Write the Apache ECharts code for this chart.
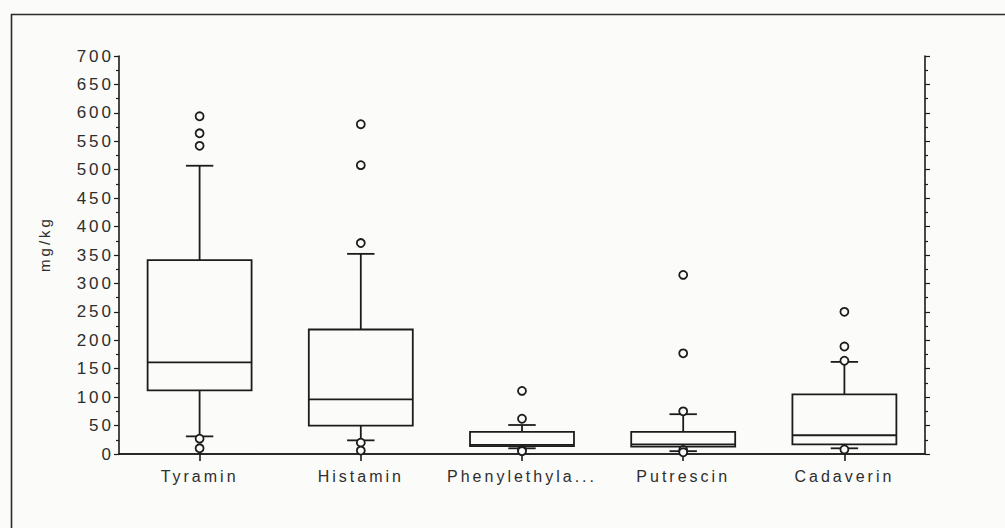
<!DOCTYPE html>
<html>
<head>
<meta charset="utf-8">
<script src="https://cdn.jsdelivr.net/npm/echarts@6/dist/echarts.min.js"></script>
<style>
  html, body { margin: 0; padding: 0; background: #fbfbf9; }
  #chart { width: 1005px; height: 528px; }
  #chart text { letter-spacing: 3px; }
</style>
</head>
<body>
<div id="chart"></div>
<script>
// ---- data ----
const categories  = ['Tyramin', 'Histamin', 'Phenylethyla...', 'Putrescin', 'Cadaverin'];
const whiskerLow  = [31, 24, 10, 5, 10];
const q1          = [112, 50, 14, 13, 17];
const median      = [161, 96, 16, 17, 33];
const q3          = [341, 219, 39, 39, 105];
const whiskerHigh = [507, 352, 51, 70, 162];
const outliers    = [
  [594, 564, 542, 27, 10],
  [580, 508, 371, 20, 6],
  [111, 62, 7, 5],
  [315, 177, 75, 7, 3],
  [250, 189, 164, 8]
];
const yMin = 0, yMax = 700, yStep = 50;
const yAxisName = 'mg/kg';

// ---- build series data ----
const boxData = categories.map((c, i) => [i, whiskerLow[i], q1[i], median[i], q3[i], whiskerHigh[i]]);
const outlierData = [];
outliers.forEach((arr, i) => arr.forEach(v => outlierData.push([i, v])));

const ink = '#1c1c1c';
const textColor = '#2e2e2e';
const fontFamily = '"Liberation Sans", Arial, Helvetica, sans-serif';

const chart = echarts.init(document.getElementById('chart'), null, { renderer: 'svg' });

chart.setOption({
  backgroundColor: '#fbfbf9',
  animation: false,
  grid: { left: 119, right: 80, top: 56, bottom: 74 },
  xAxis: [
    {
      type: 'category', data: categories, position: 'bottom',
      axisLine: { show: true, lineStyle: { color: ink, width: 1.6 } },
      axisTick: { show: true, alignWithLabel: true, length: 7, lineStyle: { color: ink, width: 1.6 } },
      axisLabel: { show: true, fontSize: 16, color: textColor, fontFamily: fontFamily, margin: 14, interval: 0 },
      splitLine: { show: false }
    },
    {
      type: 'category', data: categories, position: 'top',
      axisLine: { show: true, lineStyle: { color: ink, width: 1.6 } },
      axisTick: { show: true, alignWithLabel: true, length: 6, lineStyle: { color: ink, width: 1.6 } },
      axisLabel: { show: false },
      splitLine: { show: false }
    }
  ],
  yAxis: [
    {
      type: 'value', min: yMin, max: yMax, interval: yStep, position: 'left',
      axisLine: { show: true, lineStyle: { color: ink, width: 1.6 } },
      axisTick: { show: true, length: 5, lineStyle: { color: ink, width: 1.2 } },
      minorTick: { show: true, splitNumber: 2, length: 3, lineStyle: { color: ink, width: 1.2 } },
      axisLabel: { fontSize: 17, color: textColor, fontFamily: fontFamily, margin: 5 },
      splitLine: { show: false }
    },
    {
      type: 'value', min: yMin, max: yMax, interval: yStep, position: 'right',
      axisLine: { show: true, lineStyle: { color: ink, width: 1.6 } },
      axisTick: { show: true, length: 5, lineStyle: { color: ink, width: 1.2 } },
      minorTick: { show: true, splitNumber: 2, length: 3, lineStyle: { color: ink, width: 1.2 } },
      axisLabel: { show: false },
      splitLine: { show: false }
    }
  ],
  graphic: [
    {
      type: 'rect', left: 9, top: 12, silent: true, z: -1,
      shape: { x: 0, y: 0, width: 1200, height: 800 },
      style: { fill: 'none', stroke: '#2a2a2a', lineWidth: 1.6 }
    },
    {
      type: 'text', x: 44, y: 244, rotation: Math.PI / 2, silent: true,
      style: { text: yAxisName, fontSize: 15, fill: textColor, fontFamily: fontFamily, align: 'center', verticalAlign: 'middle' }
    }
  ],
  series: [
    {
      type: 'custom',
      xAxisIndex: 0, yAxisIndex: 0,
      data: boxData,
      z: 2,
      renderItem: function (params, api) {
        const idx = api.value(0);
        const pMin = api.coord([idx, api.value(1)]);
        const pQ1 = api.coord([idx, api.value(2)]);
        const pMed = api.coord([idx, api.value(3)]);
        const pQ3 = api.coord([idx, api.value(4)]);
        const pMax = api.coord([idx, api.value(5)]);
        const band = api.size([1, 0])[0];
        const bw = band * 0.645;
        const cw = band * 0.17;
        const x = pMed[0];
        const ls = { stroke: ink, lineWidth: 1.8, fill: 'none' };
        return {
          type: 'group',
          children: [
            { type: 'line', shape: { x1: x, y1: pMax[1], x2: x, y2: pQ3[1] }, style: ls },
            { type: 'line', shape: { x1: x, y1: pQ1[1], x2: x, y2: pMin[1] }, style: ls },
            { type: 'line', shape: { x1: x - cw / 2, y1: pMax[1], x2: x + cw / 2, y2: pMax[1] }, style: ls },
            { type: 'line', shape: { x1: x - cw / 2, y1: pMin[1], x2: x + cw / 2, y2: pMin[1] }, style: ls },
            { type: 'rect', shape: { x: x - bw / 2, y: pQ3[1], width: bw, height: pQ1[1] - pQ3[1] },
              style: { stroke: ink, lineWidth: 1.8, fill: '#fbfbf9' } },
            { type: 'line', shape: { x1: x - bw / 2, y1: pMed[1], x2: x + bw / 2, y2: pMed[1] }, style: ls }
          ]
        };
      }
    },
    {
      type: 'scatter',
      xAxisIndex: 0, yAxisIndex: 0,
      data: outlierData,
      z: 3,
      symbol: 'circle',
      symbolSize: 8,
      itemStyle: { color: '#fbfbf9', borderColor: ink, borderWidth: 1.8, opacity: 1 }
    }
  ]
});
</script>
</body>
</html>
